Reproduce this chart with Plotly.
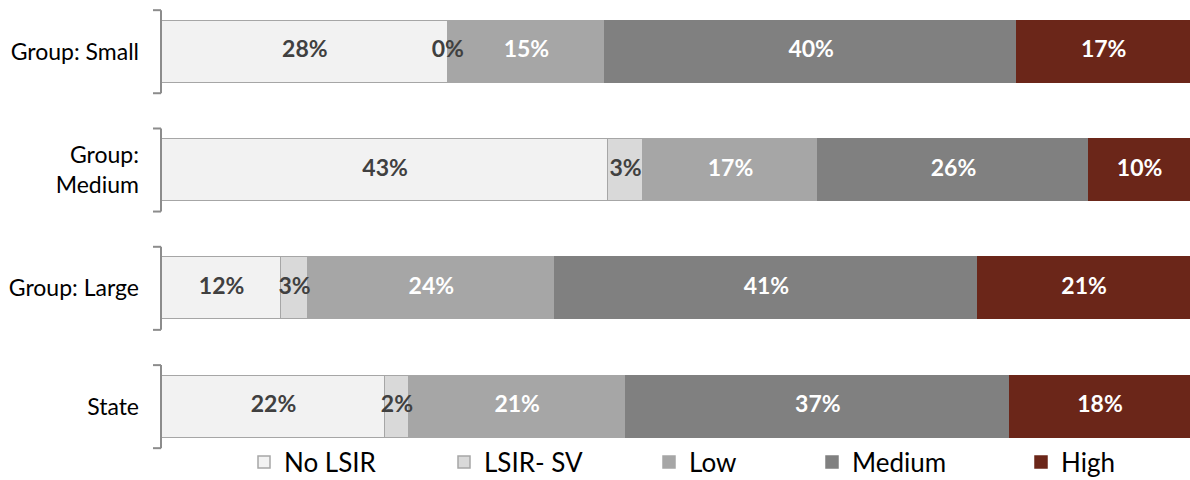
import plotly.graph_objects as go

categories = ["Group: Small", "Group:<br>Medium", "Group: Large", "State"]
series_names = ["No LSIR", "LSIR- SV", "Low", "Medium", "High"]
no_lsir = [27.8, 43.4, 11.6, 21.7]
lsir_sv = [0.0, 3.4, 2.6, 2.3]
low = [15.3, 17.0, 24.0, 21.1]
medium = [40.1, 26.4, 41.2, 37.4]
high = [16.8, 9.8, 20.6, 17.5]

series_values = [no_lsir, lsir_sv, low, medium, high]
colors = ["#f2f2f2", "#d9d9d9", "#a6a6a6", "#808080", "#6b2619"]
line_colors = ["#a6a6a6", "#a6a6a6", "#a6a6a6", "#808080", "#6b2619"]
text_colors = ["#404040", "#404040", "#ffffff", "#ffffff", "#ffffff"]

FONT = "Lato, Carlito, 'Liberation Sans', sans-serif"


def pct(v):
    return f"{int(v + 0.5)}%"


fig = go.Figure()
legend_ids = ["legend", "legend2", "legend3", "legend4", "legend5"]
for k, (name, vals) in enumerate(zip(series_names, series_values)):
    fig.add_trace(go.Bar(
        y=categories, x=vals, name=name, orientation="h",
        marker=dict(color=colors[k], line=dict(color=line_colors[k], width=1.5)),
        width=0.524, textposition="none",
        legend=legend_ids[k], hoverinfo="skip",
    ))

# value labels, drawn on top of all bars at each segment's centre
starts = [0.0] * len(categories)
label_traces = []
for k, vals in enumerate(series_values):
    xs, ts = [], []
    for i, v in enumerate(vals):
        xs.append(starts[i] + v / 2)
        ts.append(pct(v))
        starts[i] += v
    label_traces.append(go.Scatter(
        x=xs, y=categories, text=ts, mode="text", textposition="middle center",
        showlegend=False, hoverinfo="skip",
        textfont=dict(family=FONT, size=23, color=text_colors[k], weight="bold"),
    ))
for t in label_traces:
    fig.add_trace(t)

# bracket-style axis marks per category
half = 0.351
for i, c in enumerate(categories):
    common = dict(xref="paper", yref="y", xsizemode="pixel", xanchor=0,
                  line=dict(color="#8c8c8c", width=2), layer="above")
    fig.add_shape(type="line", x0=-1, x1=-1, y0=i - half, y1=i + half, **common)
    fig.add_shape(type="line", x0=-9, x1=-1, y0=i - half, y1=i - half, **common)
    fig.add_shape(type="line", x0=-9, x1=-1, y0=i + half, y1=i + half, **common)

W, H = 1190, 480
ML = 162
legend_marker_px = [258, 458, 663, 826, 1035]
sym_offset = 14
leg_layouts = {}
for k, lid in enumerate(legend_ids):
    leg_layouts[lid] = dict(
        xref="container", yref="container",
        x=(legend_marker_px[k] - sym_offset) / W, xanchor="left",
        y=1 - 462 / H, yanchor="middle",
        orientation="h", bgcolor="rgba(0,0,0,0)",
        font=dict(family=FONT, size=26, color="#000000"),
        itemclick=False, itemdoubleclick=False,
    )

fig.update_layout(
    width=W, height=H, template="none",
    barmode="stack", bargap=0,
    margin=dict(l=ML, r=0, t=0, b=0, autoexpand=False),
    paper_bgcolor="white", plot_bgcolor="white",
    font=dict(family=FONT, color="#000000"),
    xaxis=dict(range=[0, 100], showgrid=False, zeroline=False, showticklabels=False,
               showline=False, ticks="", automargin=False, fixedrange=True),
    yaxis=dict(type="category", categoryarray=categories, range=[3.620, -0.437],
               showgrid=False, zeroline=False, showline=False, ticks="",
               ticklabelstandoff=22, automargin=False, fixedrange=True,
               tickfont=dict(family=FONT, size=23, color="#000000")),
    **leg_layouts,
)

fig.write_html("out.html")
